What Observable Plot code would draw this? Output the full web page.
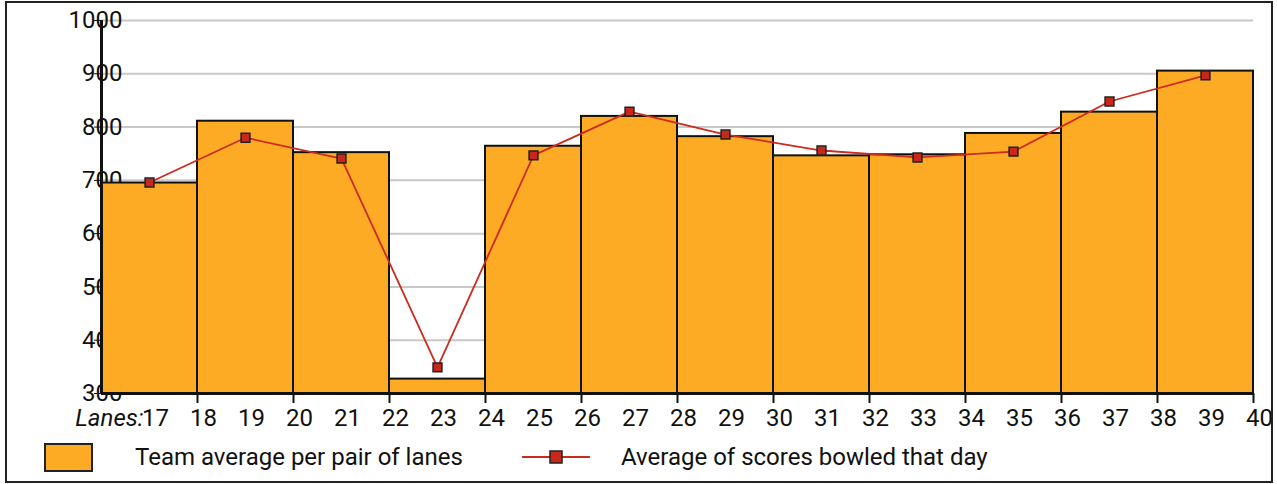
<!DOCTYPE html>
<html>
<head>
<meta charset="utf-8">
<script src="https://cdn.jsdelivr.net/npm/d3@7"></script>
<script src="https://cdn.jsdelivr.net/npm/@observablehq/plot@0.6"></script>
<style>
  html, body { margin: 0; padding: 0; background: #fff; }
  #wrap { position: relative; width: 1277px; height: 484px; font-family: Roboto, sans-serif; overflow: hidden; }
  #frame { position: absolute; left: 5px; top: 1px; width: 1268px; height: 482px; border: 2px solid #222; box-sizing: border-box; pointer-events: none; }
  #chart { position: absolute; left: 0; top: 0; }
  .leg { position: absolute; top: 441px; height: 32px; line-height: 32px; font-size: 24px; color: #111; white-space: nowrap; }
  .sw-rect { position: absolute; left: 44px; top: 443px; width: 49px; height: 29px; background: #fdab24; border: 2px solid #222; box-sizing: border-box; }
</style>
</head>
<body>
<div id="wrap">
  <div id="chart"></div>
  <div class="sw-rect"></div>
  <div class="leg" style="left:135px">Team average per pair of lanes</div>
  <svg style="position:absolute;left:520px;top:445px" width="72" height="24">
    <line x1="2" y1="12" x2="70" y2="12" stroke="#cc2b1d" stroke-width="2"></line>
    <rect x="30" y="6" width="12" height="12" fill="#c8281b" stroke="#222" stroke-width="1.5"></rect>
  </svg>
  <div class="leg" style="left:621px">Average of scores bowled that day</div>
  <div id="frame"></div>
</div>
<script>
// Lane pairs (centre lane number of each pair)
const lanes = [17, 19, 21, 23, 25, 27, 29, 31, 33, 35, 37, 39];
// Team average per pair of lanes
const teamAverage = [695, 811, 752, 327, 764, 820, 782, 746, 748, 788, 828, 905];
// Average of scores bowled that day
const dayAverage = [696, 780, 741, 349, 747, 829, 786, 756, 743, 754, 848, 897];
// Axis ticks
const yTicks = [300, 400, 500, 600, 700, 800, 900, 1000];
const xLabels = d3.range(17, 41);
const xBoundaryTicks = d3.range(18, 41, 2);

const bars = lanes.map((l, i) => ({lane: l, value: teamAverage[i]}));
const points = lanes.map((l, i) => ({lane: l, value: dayAverage[i]}));

const chart = Plot.plot({
  width: 1277,
  height: 440,
  marginLeft: 101,
  marginRight: 24,
  marginTop: 20,
  marginBottom: 47,
  style: {fontFamily: "Roboto, sans-serif", fontSize: "24px", color: "#111", background: "transparent"},
  x: {domain: [16, 40]},
  y: {domain: [300, 1000]},
  marks: [
    Plot.gridY(yTicks, {stroke: "#c8c8c8", strokeOpacity: 1, strokeWidth: 2}),
    Plot.axisY({ticks: yTicks, tickFormat: d => String(d), tickSize: 7, tickPadding: -28, fontSize: 24, label: null, stroke: "#111"}),
    Plot.rectY(bars, {x1: d => d.lane - 1, x2: d => d.lane + 1, y1: 300, y2: "value", fill: "#fdab24", stroke: "#111", strokeWidth: 2}),
    Plot.ruleX([16], {stroke: "#111", strokeWidth: 3}),
    Plot.ruleY([300], {stroke: "#111", strokeWidth: 3}),
    Plot.axisX({ticks: xBoundaryTicks, tickSize: 10, tickFormat: () => "", label: null, stroke: "#111", strokeWidth: 2}),
    Plot.text(xLabels, {x: d => d, y: 300, text: d => String(d), dy: 25, dx: 6, fontSize: 24, fill: "#111", lineAnchor: "middle"}),
    Plot.text(["Lanes:"], {x: 17, y: 300, text: d => d, dy: 25, dx: -6, textAnchor: "end", lineAnchor: "middle", fontSize: 24, fontStyle: "italic", fill: "#111"}),
    Plot.line(points, {x: "lane", y: "value", stroke: "#cc2b1d", strokeWidth: 1.8}),
    Plot.dot(points, {x: "lane", y: "value", symbol: "square", r: 5, fill: "#c8281b", stroke: "#222", strokeWidth: 1.5})
  ]
});
document.getElementById("chart").appendChild(chart);
</script>
</body>
</html>
